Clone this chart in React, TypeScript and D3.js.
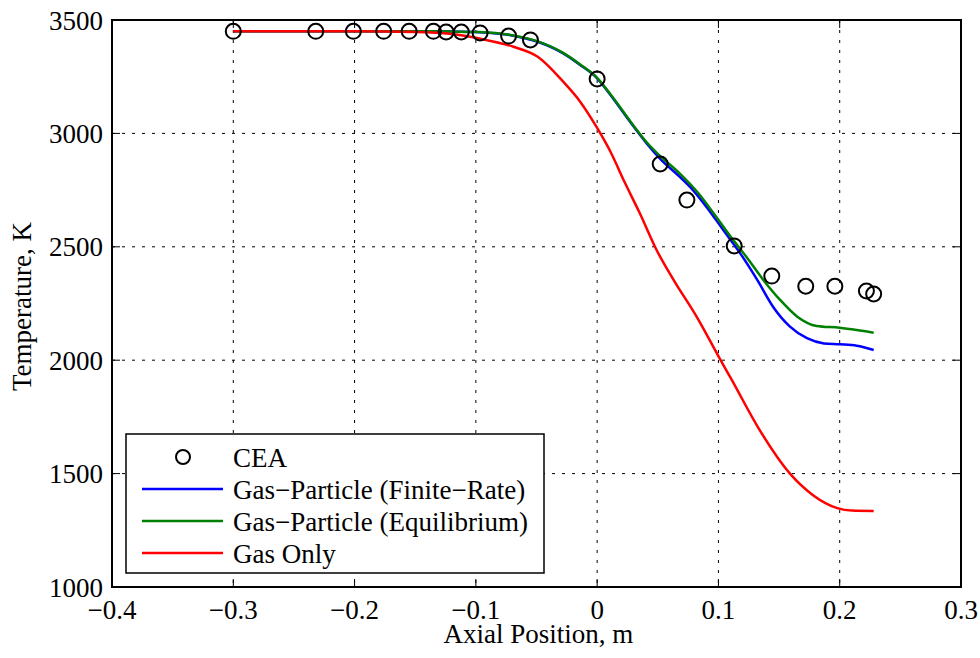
import React from "react";
import * as d3 from "d3";

const xTicks = [-0.4, -0.3, -0.2, -0.1, 0, 0.1, 0.2, 0.3];
const yTicks = [1000, 1500, 2000, 2500, 3000, 3500];

const ceaX = [-0.3, -0.232, -0.201, -0.176, -0.155, -0.135, -0.1245, -0.112, -0.0965, -0.073, -0.055, 0, 0.052, 0.074, 0.113, 0.144, 0.172, 0.196, 0.222, 0.228];
const ceaT = [3450, 3450, 3450, 3450, 3450, 3450, 3447, 3447, 3443, 3429, 3412, 3240, 2865, 2706, 2504, 2371, 2326, 2326, 2305, 2292];

const finiteX = [-0.3, -0.2, -0.15, -0.12, -0.097, -0.069, -0.049, -0.028, -0.014, 0, 0.013, 0.027, 0.041, 0.052, 0.068, 0.079, 0.09, 0.104, 0.118, 0.132, 0.145, 0.159, 0.173, 0.187, 0.2, 0.214, 0.228];
const finiteT = [3450, 3450, 3450, 3449, 3446, 3431, 3404, 3353, 3302, 3243, 3155, 3052, 2955, 2888, 2809, 2750, 2677, 2574, 2471, 2354, 2236, 2148, 2097, 2074, 2070, 2064, 2045];

const equilX = [-0.3, -0.2, -0.15, -0.12, -0.097, -0.069, -0.049, -0.028, -0.014, 0, 0.013, 0.027, 0.041, 0.052, 0.068, 0.0835, 0.096, 0.11, 0.123, 0.137, 0.151, 0.165, 0.181, 0.2, 0.214, 0.228];
const equilT = [3450, 3450, 3450, 3449, 3447, 3432, 3406, 3355, 3304, 3245, 3158, 3056, 2960, 2900, 2824, 2736, 2648, 2545, 2456, 2354, 2265, 2192, 2151, 2143, 2133, 2121];

const gasX = [-0.3, -0.2, -0.15, -0.12, -0.097, -0.069, -0.049, -0.028, -0.014, 0, 0.011, 0.023, 0.035, 0.049, 0.063, 0.082, 0.101, 0.111, 0.134, 0.159, 0.178, 0.198, 0.21, 0.228];
const gasT = [3450, 3450, 3447, 3438, 3418, 3382, 3338, 3228, 3140, 3024, 2919, 2781, 2650, 2486, 2354, 2192, 2008, 1913, 1692, 1500, 1405, 1348, 1337, 1335];

const legendLabels = ["CEA", "Gas\u2212Particle (Finite\u2212Rate)", "Gas\u2212Particle (Equilibrium)", "Gas Only"];
const seriesColors = ["#0000ff", "#008000", "#ff0000"];

const W = 980, H = 658;
const L = 112, R = 961, T = 20, B = 587;
const FONT = "'Liberation Serif', 'Times New Roman', serif";
const FS = 27;

function fmt(v: number) {
  const s = Math.abs(v) < 1e-9 ? "0" : String(v);
  return s.replace("-", "\u2212");
}

export default function App() {
  const x = d3.scaleLinear().domain([-0.4, 0.3]).range([L, R]);
  const y = d3.scaleLinear().domain([1000, 3500]).range([B, T]);
  const line = d3
    .line<[number, number]>()
    .x((d) => x(d[0]))
    .y((d) => y(d[1]))
    .curve(d3.curveMonotoneX);

  const series = [
    { xs: finiteX, ts: finiteT, color: seriesColors[0] },
    { xs: equilX, ts: equilT, color: seriesColors[1] },
    { xs: gasX, ts: gasT, color: seriesColors[2] },
  ];

  const tickLen = 8;
  const legX = 126, legY = 434, legW = 418, legH = 139;
  const rowY = [457, 489, 521, 553];

  return (
    <svg width={W} height={H} style={{ position: "absolute", left: 0, top: 0, background: "#fff" }} fontFamily={FONT}>
      <rect x={0} y={0} width={W} height={H} fill="#fff" />
      {xTicks.slice(1, -1).map((v) => (
        <line key={"gx" + v} x1={x(v)} x2={x(v)} y1={T} y2={B} stroke="#000" strokeWidth={1} strokeDasharray="3,7" />
      ))}
      {yTicks.slice(1, -1).map((v) => (
        <line key={"gy" + v} x1={L} x2={R} y1={y(v)} y2={y(v)} stroke="#000" strokeWidth={1} strokeDasharray="3,7" />
      ))}
      {xTicks.map((v) => (
        <g key={"tx" + v}>
          <line x1={x(v)} x2={x(v)} y1={B} y2={B - tickLen} stroke="#000" strokeWidth={1} />
          <line x1={x(v)} x2={x(v)} y1={T} y2={T + tickLen} stroke="#000" strokeWidth={1} />
          <text x={x(v)} y={619} textAnchor="middle" fontSize={FS} fill="#000">{fmt(v)}</text>
        </g>
      ))}
      {yTicks.map((v) => (
        <g key={"ty" + v}>
          <line x1={L} x2={L + tickLen} y1={y(v)} y2={y(v)} stroke="#000" strokeWidth={1} />
          <line x1={R} x2={R - tickLen} y1={y(v)} y2={y(v)} stroke="#000" strokeWidth={1} />
          <text x={103} y={y(v) + 9.5} textAnchor="end" fontSize={FS} fill="#000">{fmt(v)}</text>
        </g>
      ))}
      {series.map((s, i) => (
        <path
          key={"s" + i}
          d={line(s.xs.map((v, j) => [v, s.ts[j]] as [number, number])) || ""}
          fill="none"
          stroke={s.color}
          strokeWidth={2.5}
        />
      ))}
      {ceaX.map((v, i) => (
        <circle key={"c" + i} cx={x(v)} cy={y(ceaT[i])} r={7.5} fill="none" stroke="#000" strokeWidth={2} />
      ))}
      <rect x={L} y={T} width={R - L} height={B - T} fill="none" stroke="#000" strokeWidth={2} />
      <text x={(L + R) / 2 + 2} y={643} textAnchor="middle" fontSize={FS} fill="#000">Axial Position, m</text>
      <text transform={`translate(31,${(T + B) / 2 + 3}) rotate(-90)`} textAnchor="middle" fontSize={FS} fill="#000">Temperature, K</text>
      <rect x={legX} y={legY} width={legW} height={legH} fill="#fff" stroke="#000" strokeWidth={1.5} />
      <circle cx={183} cy={rowY[0]} r={7} fill="none" stroke="#000" strokeWidth={2} />
      {seriesColors.map((c, i) => (
        <line key={"ll" + i} x1={142} x2={223} y1={rowY[i + 1]} y2={rowY[i + 1]} stroke={c} strokeWidth={2.5} />
      ))}
      {legendLabels.map((t, i) => (
        <text key={"lt" + i} x={233} y={rowY[i] + 9.5} fontSize={FS} fill="#000">{t}</text>
      ))}
    </svg>
  );
}
